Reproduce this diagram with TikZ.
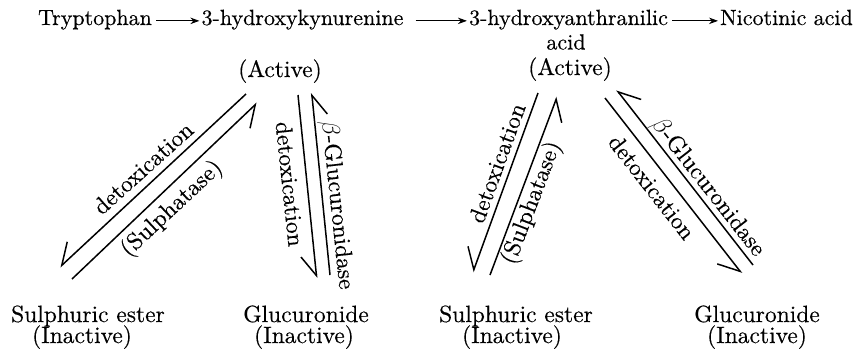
\documentclass[tikz,border=0pt]{standalone}
\usepackage{fontspec}
\setmainfont{lmroman10-regular.otf}[FakeBold=0.4]
\usetikzlibrary{arrows.meta}
\begin{document}
\begin{tikzpicture}[x=1pt,y=-1pt,
  toptext/.style={font=\fontsize{22}{24}\selectfont, inner sep=0pt, anchor=base},
  lbl/.style={font=\fontsize{23.5}{25}\selectfont, inner sep=0pt},
  btext/.style={font=\fontsize{23.5}{25}\selectfont, inner sep=0pt, anchor=base},
  fwd/.style={line width=0.9pt, -{Stealth[length=9pt,width=6.5pt]}, shorten <=4pt, shorten >=2pt},
  harp/.style={line width=1.5pt, -{Straight Barb[right,length=20pt,width=27pt]}},
]
\useasboundingbox (0,0) rectangle (857,349);
% top row
\node[toptext] (trp) at (95,25) {Tryptophan};
\node[toptext] (hk) at (302.5,25) {3-hydroxykynurenine};
\node[toptext] (ha) at (568.5,25) {3-hydroxyanthranilic};
\node[toptext] (nic) at (786.5,25) {Nicotinic acid};
\node[toptext] (acid) at (566,49.5) {acid};
\draw[fwd] ([yshift=2pt]trp.mid east) -- ([yshift=2pt]hk.mid west);
\draw[fwd, shorten <=12pt] ([yshift=2pt]hk.mid east) -- ([yshift=2pt]ha.mid west);
\draw[fwd] ([yshift=2pt]ha.mid east) -- ([yshift=2pt]nic.mid west);
\node[btext] (act1) at (280,77) {(Active)};
\node[btext] (act2) at (570,75) {(Active)};
% bottom labels
\node[btext] (se1) at (88,322) {Sulphuric ester};
\node[btext] (in1) at (82,343) {(Inactive)};
\node[btext] (gl1) at (306,322) {Glucuronide};
\node[btext] (in2) at (304,343) {(Inactive)};
\node[btext] (se2) at (516,322) {Sulphuric ester};
\node[btext] (in3) at (512,343) {(Inactive)};
\node[btext] (gl2) at (757,322) {Glucuronide};
\node[btext] (in4) at (757,343) {(Inactive)};
% arrow end points
\coordinate (a1) at (246,94);   \coordinate (a2) at (60,267);
\coordinate (b1) at (72,279);   \coordinate (b2) at (257,103);
\coordinate (c1) at (298,95);   \coordinate (c2) at (316.7,278);
\coordinate (e1) at (330,275);  \coordinate (e2) at (311.7,93);
\coordinate (f1) at (538,93);   \coordinate (f2) at (473,272);
\coordinate (g1) at (490,275);  \coordinate (g2) at (557,97);
\coordinate (h1) at (605,98);   \coordinate (h2) at (741.7,273.3);
\coordinate (k1) at (753,265);  \coordinate (k2) at (616.7,90);
\draw[harp] (a1) -- (a2);
\draw[harp] (b1) -- (b2);
\draw[harp] (c1) -- (c2);
\draw[harp] (e1) -- (e2);
\draw[harp] (f1) -- (f2);
\draw[harp] (g1) -- (g2);
\draw[harp] (h1) -- (h2);
\draw[harp] (k1) -- (k2);
% arrow labels
\node[lbl, rotate=42] (l1) at (143,168) {detoxication};
\node[lbl, rotate=43] (l2) at (172,209) {(Sulphatase)};
\node[lbl, rotate=-84] (l3) at (290,184) {detoxication};
\node[lbl, rotate=-84] (l4) at (337,205) {$\beta$-Glucuronidase};
\node[lbl, rotate=70] (l5) at (497,163) {detoxication};
\node[lbl, rotate=69] (l6) at (532,203) {(Sulphatase)};
\node[lbl, rotate=-52] (l7) at (652,187) {detoxication};
\node[lbl, rotate=-52] (l8) at (708,187) {$\beta$-Glucuronidase};
\end{tikzpicture}
\end{document}
